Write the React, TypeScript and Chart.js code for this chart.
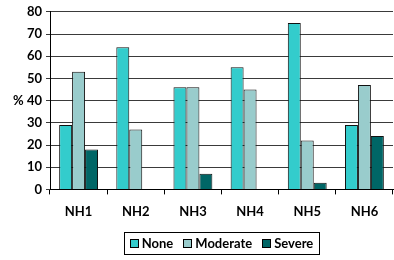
import React, { useEffect, useRef } from "react";
import { Chart, registerables } from "chart.js";

Chart.register(...registerables);

const categories = ["NH1", "NH2", "NH3", "NH4", "NH5", "NH6"];
const noneValues = [29, 64, 46, 55, 75, 29];
const moderateValues = [53, 27, 46, 45, 22, 47];
const severeValues = [18, 0, 7, 0, 3, 24];
const seriesNames = ["None", "Moderate", "Severe"];
const seriesColors = ["#33CCCC", "#99CCCC", "#006666"];

const FONT = "Lato, 'Open Sans', sans-serif";

const boxedLegend = {
  id: "boxedLegend",
  afterDraw(chart: any) {
    const ctx = chart.ctx;
    const area = chart.chartArea;
    const ds = chart.data.datasets;
    ctx.save();
    ctx.font = `bold 13px ${FONT}`;
    const sq = 8;
    const gapText = 4;
    const gapItem = 10;
    const padX = 6;
    const widths = ds.map((d: any) => sq + gapText + ctx.measureText(d.label).width);
    const total = widths.reduce((a: number, b: number) => a + b, 0) + gapItem * (ds.length - 1);
    const cx = (area.left + area.right) / 2;
    const top = 232;
    const bottom = 254;
    const cy = (top + bottom) / 2;
    const left = Math.round(cx - total / 2 - padX);
    const right = Math.round(cx + total / 2 + padX);
    ctx.strokeStyle = "#000";
    ctx.lineWidth = 1;
    ctx.strokeRect(left + 0.5, top + 0.5, right - left, bottom - top);
    let x = cx - total / 2;
    ds.forEach((d: any, i: number) => {
      const sx = Math.round(x);
      const sy = Math.round(cy - sq / 2);
      ctx.fillStyle = d.backgroundColor;
      ctx.fillRect(sx, sy, sq, sq);
      ctx.strokeRect(sx + 0.5, sy + 0.5, sq, sq);
      ctx.fillStyle = "#000";
      ctx.textBaseline = "middle";
      ctx.textAlign = "left";
      ctx.fillText(d.label, x + sq + gapText, cy + 1);
      x += widths[i] + gapItem;
    });
    ctx.restore();
  },
};

export default function App() {
  const ref = useRef<HTMLCanvasElement>(null);
  useEffect(() => {
    if (!ref.current) return;
    const values = [noneValues, moderateValues, severeValues];
    const chart = new Chart(ref.current, {
      type: "bar",
      data: {
        labels: categories,
        datasets: values.map((v, i) => ({
          label: seriesNames[i],
          data: v,
          backgroundColor: seriesColors[i],
          borderColor: "#111",
          borderWidth: 1,
          categoryPercentage: 0.68,
          barPercentage: 1,
        })),
      },
      options: {
        animation: false,
        responsive: false,
        maintainAspectRatio: false,
        layout: { padding: { top: 7, right: 1, left: 0, bottom: 30 } },
        plugins: {
          tooltip: { enabled: false },
          legend: { display: false },
        },
        scales: {
          x: {
            grid: {
              display: true,
              drawOnChartArea: false,
              drawTicks: true,
              tickLength: 5,
              color: "#000",
              offset: true,
            },
            border: { display: true, color: "#000", width: 1 },
            ticks: {
              color: "#000",
              padding: 10,
              font: { family: FONT, size: 13, weight: "bold" },
            },
          },
          y: {
            min: 0,
            max: 80,
            afterFit: (s: any) => {
              s.width = 50;
            },
            ticks: {
              stepSize: 10,
              color: "#000",
              padding: 4,
              font: { family: FONT, size: 13, weight: "bold" },
              callback: (v: any) => (v === 40 ? "% 40" : String(v)),
            },
            grid: {
              color: "#3a3a3a",
              tickLength: 4,
              drawTicks: true,
            },
            border: { display: true, color: "#000", width: 1 },
          },
        },
      },
      plugins: [boxedLegend],
    });
    return () => chart.destroy();
  }, []);
  return (
    <div style={{ position: "fixed", left: 0, top: 0, width: 394, height: 260, background: "#fff" }}>
      <canvas ref={ref} width={394} height={260} style={{ display: "block" }} />
    </div>
  );
}
